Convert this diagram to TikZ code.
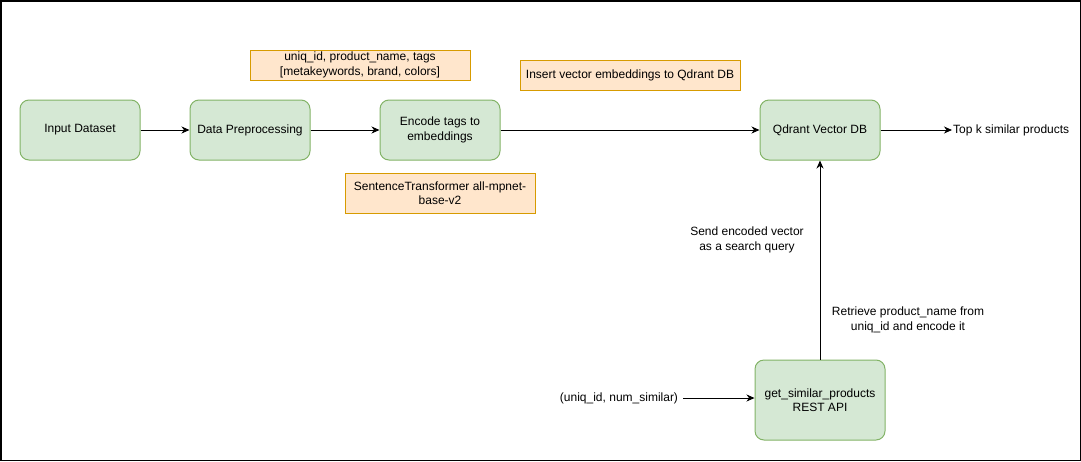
\documentclass[tikz,border=0pt]{standalone}
\usepackage{fontspec}
\setmainfont{Liberation Sans}
\usetikzlibrary{arrows.meta}
\definecolor{gfill}{HTML}{D5E8D4}
\definecolor{gdraw}{HTML}{82B366}
\definecolor{ofill}{HTML}{FFE6CC}
\definecolor{odraw}{HTML}{D79B00}
\begin{document}
\begin{tikzpicture}[x=1pt,y=-1pt,
  font=\fontsize{12}{14.5}\selectfont,
  gbox/.style={draw=gdraw,fill=gfill,line width=1pt,rounded corners=9pt,align=center,minimum width=120pt,minimum height=60pt,inner sep=2pt},
  obox/.style={draw=odraw,fill=ofill,line width=1pt,align=center,inner sep=2pt},
  lbl/.style={align=center,inner sep=3pt},
  arr/.style={-{Stealth[length=8pt,width=7pt,inset=2.5pt]},line width=1pt,black}]
\useasboundingbox (0,0) rectangle (1081,461);
\draw[line width=1.5pt] (0.75,0.75) rectangle (1080.25,460.25);

\node[gbox] (in) at (80,130) {Input Dataset};
\node[gbox] (dp) at (250,130) {Data Preprocessing};
\node[gbox] (enc) at (440,130) {Encode tags to\\embeddings};
\node[gbox] (qd) at (820,130) {Qdrant Vector DB};
\node[gbox,minimum width=130pt,minimum height=80pt] (api) at (820,400) {get\_similar\_products\\REST API};

\node[lbl,anchor=west,inner sep=1pt] (topk) at (952,130) {Top k similar products};
\node[lbl,inner sep=5pt] (query) at (619,398) {(uniq\_id, num\_similar)};

\node[obox,minimum width=220pt,minimum height=30pt] (o1) at (360,65) {uniq\_id, product\_name, tags\\{[}metakeywords, brand, colors{]}};
\node[obox,minimum width=220pt,minimum height=30pt] (o2) at (630,75) {Insert vector embeddings to Qdrant DB};
\node[obox,minimum width=190pt,minimum height=40pt] (o3) at (440,193) {SentenceTransformer all-mpnet-\\base-v2};

\node[lbl] (l1) at (747,240) {Send encoded vector\\as a search query};
\node[lbl] (l2) at (908,320) {Retrieve product\_name from\\uniq\_id and encode it};

\draw[arr] (in) -- (dp);
\draw[arr] (dp) -- (enc);
\draw[arr] (enc) -- (qd);
\draw[arr] (qd) -- (topk);
\draw[arr] (api) -- (qd);
\draw[arr] (query.east) -- (query.east -| api.west);
\end{tikzpicture}
\end{document}
